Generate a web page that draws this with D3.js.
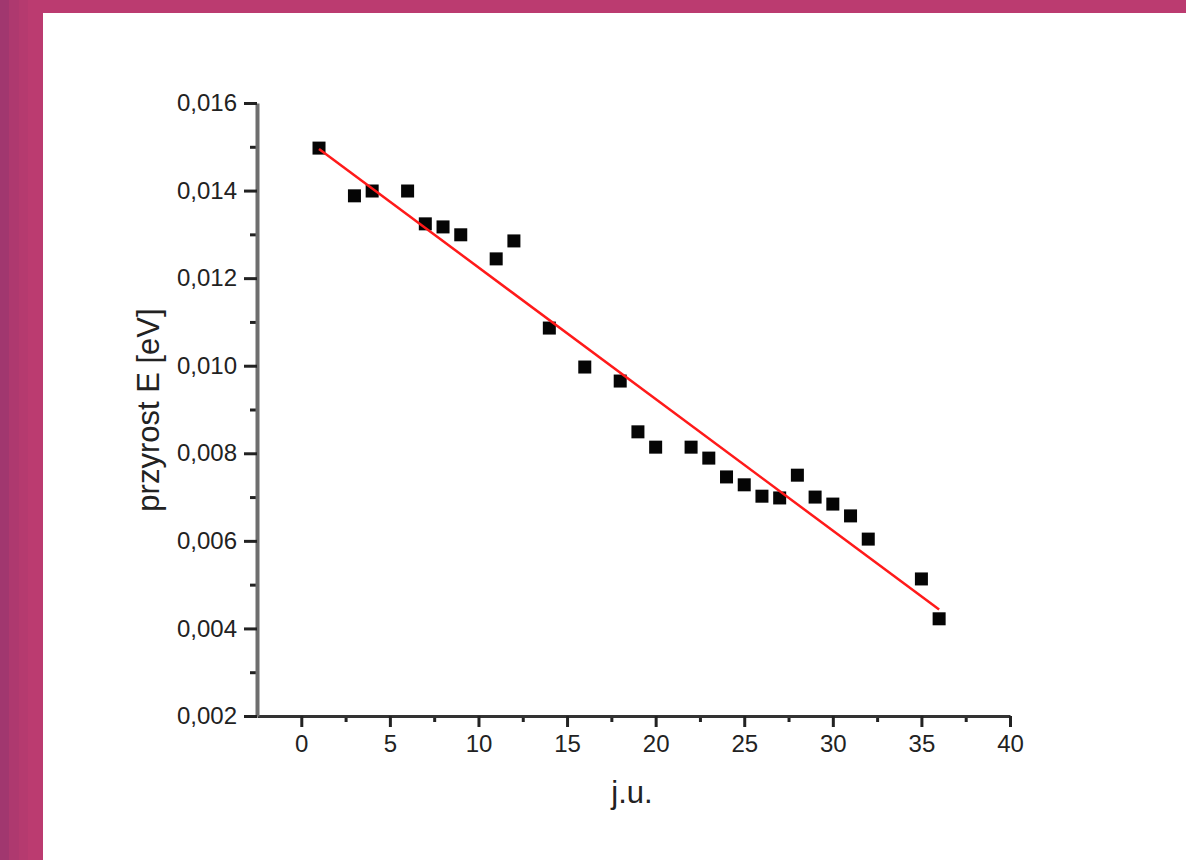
<!DOCTYPE html>
<html>
<head>
<meta charset="utf-8">
<script src="https://cdn.jsdelivr.net/npm/d3@7"></script>
<style>
  html, body { margin: 0; padding: 0; background: #fff; }
  svg { display: block; }
</style>
</head>
<body>
<div id="chart"></div>
<script>
// data
const xVals = [1, 3, 4, 6, 7, 8, 9, 11, 12, 14, 16, 18, 19, 20, 22, 23, 24, 25, 26, 27, 28, 29, 30, 31, 32, 35, 36];
const yVals = [0.01497, 0.01388, 0.01399, 0.01399, 0.01324, 0.01317, 0.01299, 0.01244, 0.01285,
  0.01086, 0.00997, 0.00965, 0.00849, 0.00814, 0.00814, 0.00789, 0.00746, 0.00728, 0.00702,
  0.00698, 0.0075, 0.0070, 0.00684, 0.00657, 0.00604, 0.00513, 0.00422];
// red fit line end points
const fitX = [1, 36];
const fitY = [0.01495, 0.00443];

const xTicks = [0, 5, 10, 15, 20, 25, 30, 35, 40];
const xMinor = [2.5, 7.5, 12.5, 17.5, 22.5, 27.5, 32.5, 37.5];
const yTicks = [0.002, 0.004, 0.006, 0.008, 0.010, 0.012, 0.014, 0.016];
const yMinor = [0.003, 0.005, 0.007, 0.009, 0.011, 0.013, 0.015];

const xTitle = 'j.u.';
const yTitle = 'przyrost E [eV]';

const W = 1186, H = 860;
const svg = d3.select('#chart').append('svg')
  .attr('width', W)
  .attr('height', H);

// page frame: pink band top/left, white sheet
svg.append('rect').attr('width', W).attr('height', H).attr('fill', '#bb3b70');
const strips = [[0, 9, '#a1376f'], [9, 19, '#ae396f'], [19, 28, '#b53a6f']];
strips.forEach(s => {
  svg.append('rect').attr('x', s[0]).attr('y', 0).attr('width', s[1] - s[0]).attr('height', H).attr('fill', s[2]);
});
svg.append('rect').attr('x', 43).attr('y', 13).attr('width', W - 43).attr('height', H - 13).attr('fill', '#fff');

const x = d3.scaleLinear().domain([-2.5, 40]).range([257, 1010]);
const y = d3.scaleLinear().domain([0.002, 0.016]).range([716, 103]);

const fmt = d => d3.format('.3f')(d).replace('.', ',');
const font = '"Liberation Sans", Arial, sans-serif';

// minor ticks
svg.append('g')
  .attr('transform', 'translate(0,716)')
  .call(d3.axisBottom(x).tickValues(xMinor).tickSize(6).tickFormat(''))
  .call(g => g.select('.domain').remove())
  .selectAll('line').attr('stroke', '#222').attr('stroke-width', 3);
svg.append('g')
  .attr('transform', 'translate(257,0)')
  .call(d3.axisLeft(y).tickValues(yMinor).tickSize(7).tickFormat(''))
  .call(g => g.select('.domain').remove())
  .selectAll('line').attr('stroke', '#222').attr('stroke-width', 3);

// x axis
const gx = svg.append('g')
  .attr('transform', 'translate(0,716)')
  .call(d3.axisBottom(x).tickValues(xTicks).tickSize(11).tickSizeOuter(0).tickPadding(8).tickFormat(d3.format('d')));
gx.select('.domain').attr('stroke', '#333').attr('stroke-width', 3);
gx.selectAll('.tick line').attr('stroke', '#222').attr('stroke-width', 3);
gx.selectAll('.tick text').attr('fill', '#222').style('font-family', font).style('font-size', '24px');

// y axis
const gy = svg.append('g')
  .attr('transform', 'translate(257,0)')
  .call(d3.axisLeft(y).tickValues(yTicks).tickSize(13).tickSizeOuter(0).tickPadding(7).tickFormat(fmt));
gy.select('.domain').attr('stroke', '#6e6e6e').attr('stroke-width', 4);
gy.selectAll('.tick line').attr('stroke', '#222').attr('stroke-width', 3);
gy.selectAll('.tick text').attr('fill', '#222').style('font-family', font).style('font-size', '24px');

// axis titles
svg.append('text')
  .attr('x', 632).attr('y', 803)
  .attr('text-anchor', 'middle')
  .attr('fill', '#222')
  .style('font-family', font).style('font-size', '31px')
  .text(xTitle);
svg.append('text')
  .attr('transform', 'translate(159,410) rotate(-90)')
  .attr('text-anchor', 'middle')
  .attr('fill', '#222')
  .style('font-family', font).style('font-size', '31px')
  .text(yTitle);

// points
const pts = xVals.map((v, i) => ({ x: v, y: yVals[i] }));
const s = 13;
svg.append('g').selectAll('rect')
  .data(pts)
  .join('rect')
  .attr('x', d => x(d.x) - s / 2)
  .attr('y', d => y(d.y) - s / 2)
  .attr('width', s)
  .attr('height', s)
  .attr('fill', '#050505');

// fit line
svg.append('path')
  .datum(fitX.map((v, i) => [v, fitY[i]]))
  .attr('fill', 'none')
  .attr('stroke', '#ff1a1a')
  .attr('stroke-width', 2.5)
  .attr('d', d3.line().x(d => x(d[0])).y(d => y(d[1])));
</script>
</body>
</html>
